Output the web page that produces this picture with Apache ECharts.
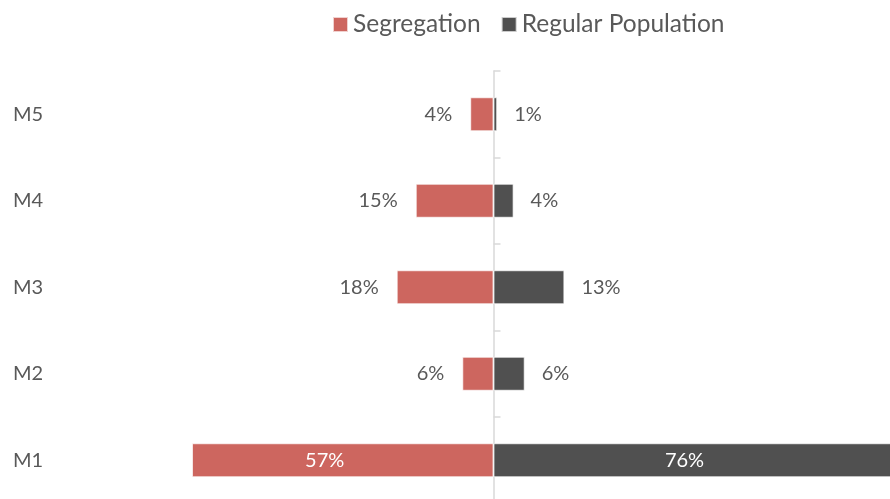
<!DOCTYPE html>
<html>
<head>
<meta charset="utf-8">
<script src="https://cdn.jsdelivr.net/npm/echarts@6/dist/echarts.min.js"></script>
<style>
html,body{margin:0;padding:0;background:#fff;}
#chart{width:890px;height:499px;}
</style>
</head>
<body>
<div id="chart"></div>
<script>
// categories, bottom to top
var cats=['M1','M2','M3','M4','M5'];
// values (percent)
var segregation=[57,5.9,18.3,14.7,4.4];
var regular=[76,5.9,13.4,3.8,0.7];

var red='#CD665F';
var dark='#505050';
var txt='#595959';
var fnt='Lato, "Open Sans", sans-serif';

function pct(p){ return Math.round(Math.abs(p.value))+'%'; }

var myChart=echarts.init(document.getElementById('chart'));
var option={
	animation:false,
	textStyle:{fontFamily:fnt},
	legend:{
		data:['Segregation','Regular Population'],
		left:327,
		top:7,
		itemWidth:15,
		itemHeight:15,
		itemGap:20,
		icon:'rect',
		textStyle:{fontSize:24.5,color:txt,fontFamily:fnt}
	},
	grid:{left:17.4,top:71,width:899.3,height:432.5,containLabel:false,outerBoundsMode:'none'},
	xAxis:{
		type:'value',
		min:-90,
		max:80,
		show:false,
		splitLine:{show:false}
	},
	yAxis:[{
		// category names at the left edge
		type:'category',
		data:cats,
		position:'left',
		axisLine:{show:false,onZero:false},
		axisTick:{show:false},
		axisLabel:{show:true,margin:4.4,align:'left',fontSize:20,color:txt,fontFamily:fnt},
		splitLine:{show:false}
	},{
		// centre line with ticks
		type:'category',
		data:cats,
		position:'left',
		axisLine:{show:true,onZero:true,lineStyle:{color:'#d9d9d9',width:1.5}},
		axisTick:{show:true,inside:true,length:7,lineStyle:{color:'#d9d9d9',width:1.5}},
		axisLabel:{show:false},
		splitLine:{show:false}
	}],
	series:[{
		name:'Segregation',
		type:'bar',
		barWidth:34,
		barGap:'-100%',
		data:segregation.map(function(v,i){
			var d={value:-v};
			if(i===0){ d.label={position:'inside',color:'#fff',offset:[-18,0]}; }
			return d;
		}),
		itemStyle:{color:red,borderColor:'rgba(255,255,255,0.7)',borderWidth:1},
		label:{show:true,position:'left',distance:18,fontSize:20,color:txt,formatter:pct}
	},{
		name:'Regular Population',
		type:'bar',
		barWidth:34,
		data:regular.map(function(v,i){
			var d={value:v};
			if(i===0){ d.label={position:'inside',color:'#fff',offset:[-10,0]}; }
			return d;
		}),
		itemStyle:{color:dark,borderColor:'rgba(255,255,255,0.7)',borderWidth:1},
		label:{show:true,position:'right',distance:17,fontSize:20,color:txt,formatter:pct}
	}]
};
myChart.setOption(option);
</script>
</body>
</html>
